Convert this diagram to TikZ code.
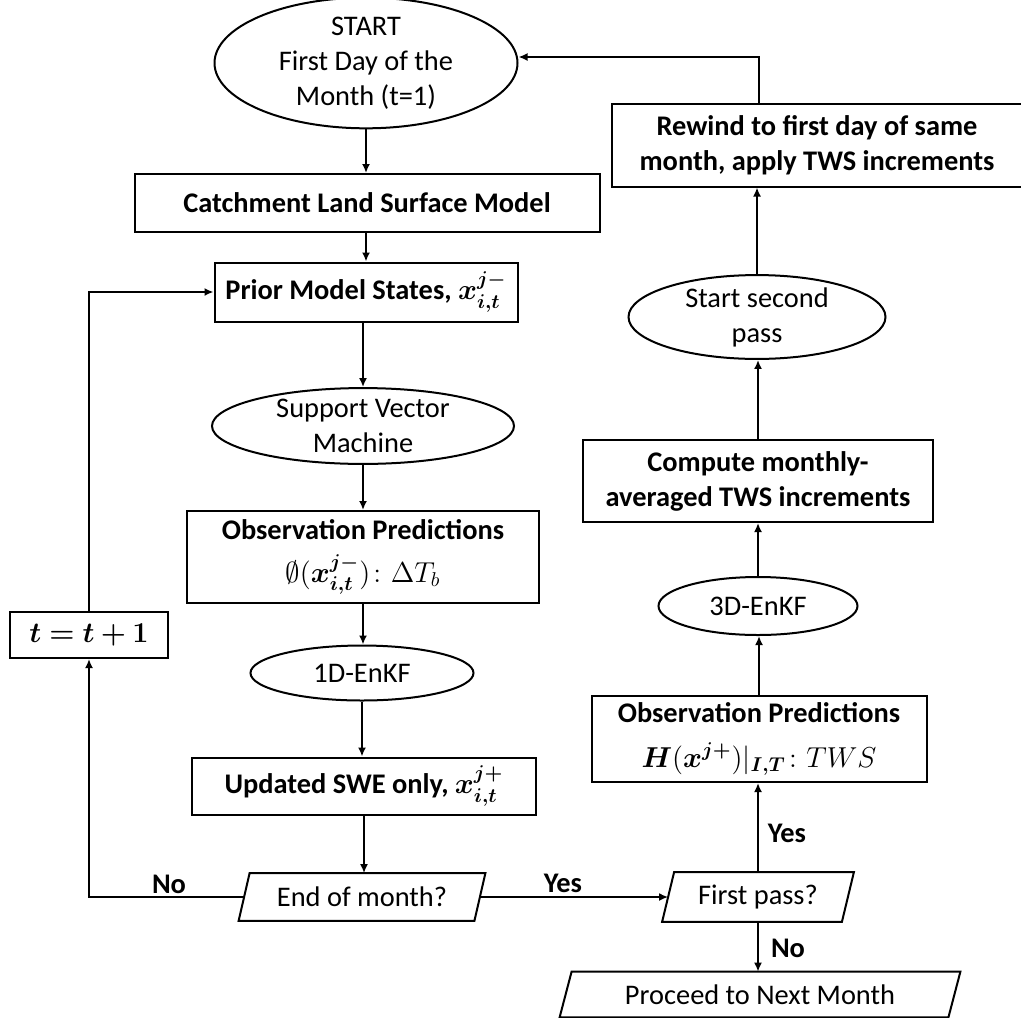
\documentclass[tikz,border=0pt]{standalone}
\usepackage{amsmath,amssymb,bm}
\usepackage{fontspec}
\setmainfont{Carlito}
\usetikzlibrary{shapes.geometric,arrows.meta}
\newcommand{\paradraw}[2]{\draw[paraline] ([xshift=#2]#1.north west) -- ([xshift=#2]#1.north east) -- ([xshift=-#2]#1.south east) -- ([xshift=-#2]#1.south west) -- cycle;}
\begin{document}
\begin{tikzpicture}[x=0.5pt,y=-0.5pt,
  every node/.style={font=\fontsize{14.2pt}{17.5pt}\selectfont, inner sep=0pt, align=center},
  boxnode/.style={draw, line width=1pt, rectangle, font=\fontsize{14.2pt}{17.5pt}\selectfont\bfseries},
  ellnode/.style={draw, line width=1pt, ellipse},
  paranode/.style={rectangle},
  paraline/.style={line width=1pt, line join=miter},
  lbl/.style={font=\fontsize{14.2pt}{17.5pt}\selectfont\bfseries},
  arr/.style={line width=0.9pt, -{Latex[length=4.5pt,width=4pt]}}
]
\useasboundingbox (0,0) rectangle (1021,1017);

% left column
\node[ellnode, minimum width=151.5pt, minimum height=55pt] (start) at (366,63) {START\\First Day of the\\Month (t=1)};
\node[boxnode, minimum width=232.5pt, minimum height=29pt] (catch) at (367,203) {Catchment Land Surface Model};
\node[boxnode, minimum width=151.5pt, minimum height=29.5pt] (prior) at (366,292) {Prior Model States, $\bm{x_{i,t}^{j-}}$};
\node[ellnode, minimum width=151pt, minimum height=31.5pt] (svm) at (363,426) {Support Vector\\Machine};
\node[boxnode, minimum width=176pt, minimum height=46pt] (obs1) at (363,557) {Observation Predictions\\[4pt]$\emptyset(\bm{x_{i,t}^{j-}})\colon \Delta T_b$};
\node[ellnode, minimum width=111.5pt, minimum height=27.5pt] (enkf1) at (362,673) {1D-EnKF};
\node[boxnode, minimum width=172pt, minimum height=28.5pt] (swe) at (364,786) {Updated SWE only, $\bm{x_{i,t}^{j+}}$};
\node[paranode, minimum width=117.5pt, minimum height=23.5pt] (endm) at (362,897) {End of month?};
\paradraw{endm}{2.75pt}
\node[boxnode, minimum width=79pt, minimum height=23pt] (tplus) at (89,635) {$\bm{t=t+1}$};

% right column
\node[paranode, minimum width=89.5pt, minimum height=24.5pt] (first) at (758,897) {First pass?};
\paradraw{first}{3pt}
\node[paranode, minimum width=194pt, minimum height=22.5pt] (proceed) at (760,994.5) {Proceed to Next Month};
\paradraw{proceed}{3pt}
\node[boxnode, minimum width=167.5pt, minimum height=43pt] (obs2) at (759,739) {Observation Predictions\\[5pt]$\bm{H}(\bm{x^{j+}})|_{\bm{I,T}}\colon TWS$};
\node[ellnode, minimum width=99.5pt, minimum height=29pt] (enkf3) at (758,606) {3D-EnKF};
\node[boxnode, minimum width=175pt, minimum height=41pt] (compute) at (758,481) {Compute monthly-\\averaged TWS increments};
\node[ellnode, minimum width=128.5pt, minimum height=40.5pt] (second) at (757,317) {Start second\\pass};
\node[boxnode, minimum width=205.5pt, minimum height=41.5pt] (rewind) at (817,145) {Rewind to first day of same\\month, apply TWS increments};

% labels
\node[lbl] (lno) at (169,884) {No};
\node[lbl] (lyes) at (563,883) {Yes};
\node[lbl] (ryes) at (787,833) {Yes};
\node[lbl] (rno) at (788,948) {No};

\coordinate (ret) at (759,57);

% connectors
\draw[arr] (start) -- (start |- catch.north);
\draw[arr] (catch.south -| prior) -- (prior);
\draw[arr] (prior.south -| svm) -- (svm);
\draw[arr] (svm) -- (svm |- obs1.north);
\draw[arr] (obs1) -- (obs1 |- enkf1.north);
\draw[arr] (enkf1) -- (enkf1 |- swe.north);
\draw[arr] (swe) -- (swe |- endm.north);
\draw[arr] (endm.west) -| (tplus.south);
\draw[arr] (tplus.north) |- (prior.west);
\draw[arr] (endm.east) -- (first.west);
\draw[arr] (first.north) -- (first.north |- obs2.south);
\draw[arr] (first.south) -- (first.south |- proceed.north);
\draw[arr] (obs2.north) -- (obs2.north |- enkf3.south);
\draw[arr] (enkf3) -- (enkf3 |- compute.south);
\draw[arr] (compute) -- (compute |- second.south);
\draw[arr] (second) -- (second |- rewind.south);
\draw[arr] (rewind.north -| ret) -- (ret) -- (start.east |- ret);
\end{tikzpicture}
\end{document}
